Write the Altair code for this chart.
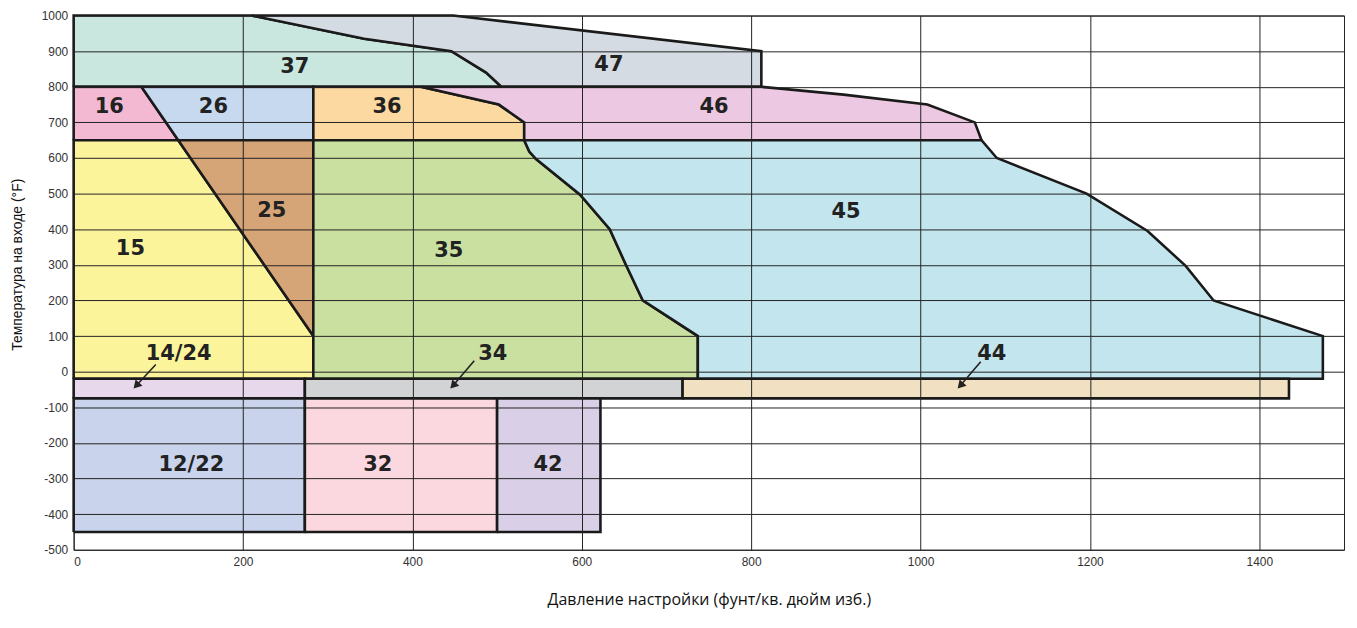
import altair as alt
import pandas as pd

# ---- region outlines (x = set pressure, y = inlet temperature) ----
region_names = ["37", "47", "16", "26", "36", "46", "15", "25", "35", "45",
                "14/24", "34", "44", "12/22", "32", "42"]
region_colors = ["#c9e7df", "#d4dbe3", "#f3b8d2", "#c6d9ef", "#fcd9a0", "#ecc8e2",
                 "#fbf49b", "#d6a577", "#c9e0a0", "#c3e6ee",
                 "#e8d8ec", "#d1d3d4", "#f2e0c3", "#c9d3ec", "#fbd8df", "#d9d0e8"]

r37_x = [0, 0, 210, 343, 446, 487, 505]
r37_y = [800, 1000, 1000, 935, 900, 840, 800]
r47_x = [210, 448, 812, 812, 505, 487, 446, 343]
r47_y = [1000, 1000, 900, 800, 800, 840, 900, 935]
r16_x = [0, 0, 80, 123.5]
r16_y = [650, 800, 800, 650]
r26_x = [80, 283, 283, 123.5]
r26_y = [800, 800, 650, 650]
r36_x = [283, 283, 410, 502, 532, 532]
r36_y = [650, 800, 800, 750, 700, 650]
r46_x = [410, 812, 909, 1008, 1064, 1072, 532, 532, 502]
r46_y = [800, 800, 778, 750, 700, 650, 650, 700, 750]
r15_x = [0, 0, 123.5, 283, 283]
r15_y = [-20, 650, 650, 100, -20]
r25_x = [123.5, 283, 283]
r25_y = [650, 650, 100]
r35_x = [283, 283, 532, 538, 546, 598, 633, 651, 672, 737, 737]
r35_y = [-20, 650, 650, 618, 597, 497, 400, 306, 200, 100, -20]
r45_x = [737, 737, 672, 651, 633, 598, 546, 538, 532, 1072, 1090, 1196, 1268, 1313, 1346, 1475, 1475]
r45_y = [-20, 100, 200, 306, 400, 497, 597, 618, 650, 650, 600, 500, 395, 297, 200, 100, -20]
r1424_x = [0, 0, 273, 273]
r1424_y = [-75, -20, -20, -75]
r34_x = [273, 273, 719, 719]
r34_y = [-75, -20, -20, -75]
r44_x = [719, 719, 1435, 1435]
r44_y = [-75, -20, -20, -75]
r1222_x = [0, 0, 273, 273]
r1222_y = [-450, -75, -75, -450]
r32_x = [273, 273, 500, 500]
r32_y = [-450, -75, -75, -450]
r42_x = [500, 500, 622, 622]
r42_y = [-450, -75, -75, -450]

region_xs = [r37_x, r47_x, r16_x, r26_x, r36_x, r46_x, r15_x, r25_x, r35_x, r45_x,
             r1424_x, r34_x, r44_x, r1222_x, r32_x, r42_x]
region_ys = [r37_y, r47_y, r16_y, r26_y, r36_y, r46_y, r15_y, r25_y, r35_y, r45_y,
             r1424_y, r34_y, r44_y, r1222_y, r32_y, r42_y]

# ---- labels ----
label_text = ["37", "47", "16", "26", "36", "46", "25", "15", "35", "45",
              "14/24", "34", "44", "12/22", "32", "42"]
label_x = [261, 632, 42, 165, 370, 756, 234, 67, 443, 912, 124, 495, 1084, 139, 359, 560]
label_y = [855, 860, 743, 743, 743, 743, 450, 343, 338, 447, 50, 50, 50, -263, -263, -263]

# ---- arrows ----
arrow_x0 = [97, 473, 1071]
arrow_y0 = [20, 31, 28]
arrow_x1 = [74, 448, 1047]
arrow_y1 = [-39, -39, -39]

x_ticks = [0, 200, 400, 600, 800, 1000, 1200, 1400]
y_ticks = [-500, -400, -300, -200, -100, 0, 100, 200, 300, 400, 500, 600, 700, 800, 900, 1000]

rows = []
for name, xs, ys in zip(region_names, region_xs, region_ys):
    pts = list(zip(xs, ys)) + [(xs[0], ys[0])]
    for i, (px, py) in enumerate(pts):
        rows.append({"region": name, "x": px, "y": py, "i": i})
poly_df = pd.DataFrame(rows)

lab_df = pd.DataFrame({"t": label_text, "x": label_x, "y": label_y})
arr_df = pd.DataFrame({"x": arrow_x0, "y": arrow_y0, "x2": arrow_x1, "y2": arrow_y1})
head_df = pd.DataFrame({"x": arrow_x1, "y": arrow_y1})

axis_font = "Liberation Sans"
x_axis = alt.Axis(values=x_ticks, grid=True, gridColor="#222", gridWidth=1,
                  domain=False, ticks=False, labelPadding=7, labelFont=axis_font,
                  labelFontSize=12, labelColor="#333", zindex=1, labelOverlap=False,
                  labelExpr="'' + datum.value",
                  title="Давление настройки (фунт/кв. дюйм изб.)",
                  titleFont="Open Sans", titleFontSize=16, titleFontWeight="normal",
                  titleColor="#111", titlePadding=24)
y_axis = alt.Axis(values=y_ticks, tickCount=16, grid=True, gridColor="#222", gridWidth=1,
                  domain=False, ticks=False, labelPadding=6, labelFont=axis_font,
                  labelFontSize=12, labelColor="#333", zindex=1, labelOverlap=False,
                  labelBound=False, labelExpr="'' + datum.value",
                  title="Температура на входе (°F)",
                  titleFont=axis_font, titleFontSize=14, titleFontWeight="normal",
                  titleColor="#111", titlePadding=17, titleY=250)
x_scale = alt.Scale(domain=[0, 1500], nice=False, zero=False)
y_scale = alt.Scale(domain=[-500, 1000], nice=False, zero=False)
X = alt.X("x:Q", scale=x_scale, axis=x_axis)
Y = alt.Y("y:Q", scale=y_scale, axis=y_axis)

polys = alt.Chart(poly_df).mark_line(strokeWidth=2.6, strokeJoin="miter").encode(
    x=X, y=Y,
    fill=alt.Fill("region:N", scale=alt.Scale(domain=region_names, range=region_colors), legend=None),
    stroke=alt.value("#1a1a1a"),
    detail="region:N",
    order="i:Q",
)

labels = alt.Chart(lab_df).mark_text(font="DejaVu Sans", fontWeight="bold", fontSize=21,
                                     color="#222").encode(x=X, y=Y, text="t:N")

arrow_lines = alt.Chart(arr_df).mark_rule(strokeWidth=1.6, color="#222").encode(
    x=X, y=Y, x2="x2:Q", y2="y2:Q")
arrow_heads = alt.Chart(head_df).mark_point(shape="triangle-up", filled=True, size=90,
                                            angle=222, color="#222", opacity=1).encode(x=X, y=Y)

chart = alt.layer(polys, labels, arrow_lines, arrow_heads).properties(
    width=1277, height=537,
    padding={"left": 2, "top": 0, "right": 5, "bottom": 5},
).configure_view(stroke="#222", strokeWidth=1)

chart.save("out.html", embed_options={"renderer": "svg", "actions": False})
